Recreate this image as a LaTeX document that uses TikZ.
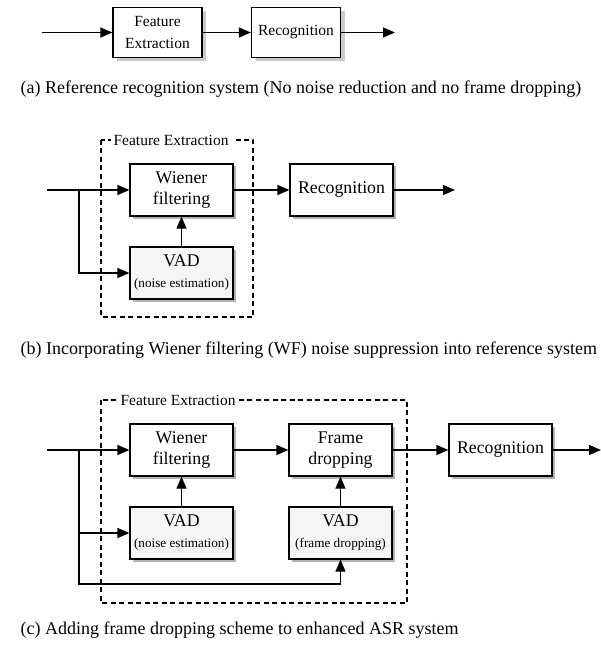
\documentclass[tikz,border=0pt]{standalone}
\usepackage{fontspec}
\setmainfont{Liberation Serif}
\usepackage{tikz}
\usetikzlibrary{arrows.meta}

\newcommand{\boxfont}{\fontsize{17.8}{21}\selectfont}
\newcommand{\aboxfont}{\fontsize{15.5}{22}\selectfont}
\newcommand{\subfont}{\fontsize{13.2}{16}\selectfont}
\newcommand{\capfont}{\fontsize{18}{21}\selectfont}

\begin{document}
\begin{tikzpicture}[x=1pt,y=-1pt,line width=1.2pt,
        >={Triangle[length=12pt,width=10pt]},
        box/.style={draw,fill=white,inner sep=0pt,align=center},
        block/.style={box,minimum width=103pt,minimum height=52pt,font=\boxfont},
        vad/.style={block,fill=gray!8},
        ablock/.style={box,minimum width=89pt,minimum height=50pt,font=\aboxfont},
        shade/.style={block,draw=none,fill=gray!60,xshift=2.5pt,yshift=-2.5pt},
        ashade/.style={ablock,draw=none,fill=gray!40,xshift=4pt,yshift=-4pt},
        fe/.style={draw,line width=1.1pt,dash pattern=on 5pt off 3.5pt},
        felabel/.style={fill=white,inner sep=3pt,anchor=west,font=\fontsize{15.5}{17}\selectfont},
        caption/.style={anchor=west,inner sep=0pt,font=\capfont}]
        \useasboundingbox (0,0) rectangle (601,647);

        \node[ashade] (feAs) at (157.5,32.5) {};
        \node[ashade] (recAs) at (296,32.5) {};
        \node[ablock] (feA) at (157.5,32.5) {Feature\\Extraction};
        \node[ablock] (recA) at (296,32.5) {Recognition};
        \coordinate (inA) at (42,32.5);
        \coordinate (outA) at (395,32.5);
        \draw[->] (inA) -- (feA);
        \draw[->] (feA) -- (recA);
        \draw[->] (recA) -- (outA);
        \node[caption] (capA) at (20,89) {(a) Reference recognition system (No noise reduction and no frame dropping)};

        \draw[fe] (101,140) rectangle (253,317);
        \node[felabel] (feB) at (110,140) {Feature Extraction};
        \node[shade] (wfBs) at (181.5,190) {};
        \node[shade] (vadBs) at (181.5,273) {};
        \node[shade] (recBs) at (341.5,190) {};
        \node[block] (wfB) at (181.5,190) {Wiener\\filtering};
        \node[vad] (vadB) at (181.5,273) {VAD\\{\subfont (noise estimation)}};
        \node[block] (recB) at (341.5,190) {Recognition};
        \coordinate (inB) at (47,190);
        \coordinate (brB) at (79,190);
        \coordinate (outB) at (455,190);
        \draw[->] (inB) -- (wfB);
        \draw[->] (brB) |- (vadB);
        \draw[->] (vadB) -- (wfB);
        \draw[->] (wfB) -- (recB);
        \draw[->] (recB) -- (outB);
        \node[caption] (capB) at (20,350) {(b) Incorporating Wiener filtering (WF) noise suppression into reference system};

        \draw[fe] (101,400) rectangle (407,603);
        \node[felabel] (feC) at (117,400) {Feature Extraction};
        \node[shade] (wfCs) at (181.5,450) {};
        \node[shade] (fdCs) at (340.5,450) {};
        \node[shade] (vadnCs) at (181.5,533) {};
        \node[shade] (vadfCs) at (340.5,533) {};
        \node[shade] (recCs) at (500.5,450) {};
        \node[block] (wfC) at (181.5,450) {Wiener\\filtering};
        \node[block] (fdC) at (340.5,450) {Frame\\dropping};
        \node[vad] (vadnC) at (181.5,533) {VAD\\{\subfont (noise estimation)}};
        \node[vad] (vadfC) at (340.5,533) {VAD\\{\subfont (frame dropping)}};
        \node[block] (recC) at (500.5,450) {Recognition};
        \coordinate (inC) at (47,450);
        \coordinate (brC) at (79,450);
        \coordinate (tapC) at (79,533);
        \coordinate (botC) at (79,584);
        \coordinate (outC) at (601,450);
        \draw[->] (inC) -- (wfC);
        \draw[->] (tapC) -- (vadnC);
        \draw[->] (brC) -- (botC) -| (vadfC);
        \draw[->] (vadnC) -- (wfC);
        \draw[->] (vadfC) -- (fdC);
        \draw[->] (wfC) -- (fdC);
        \draw[->] (fdC) -- (recC);
        \draw[->] (recC) -- (outC);
        \node[caption] (capC) at (20,630) {(c) Adding frame dropping scheme to enhanced ASR system};
    \end{tikzpicture}
\end{document}
